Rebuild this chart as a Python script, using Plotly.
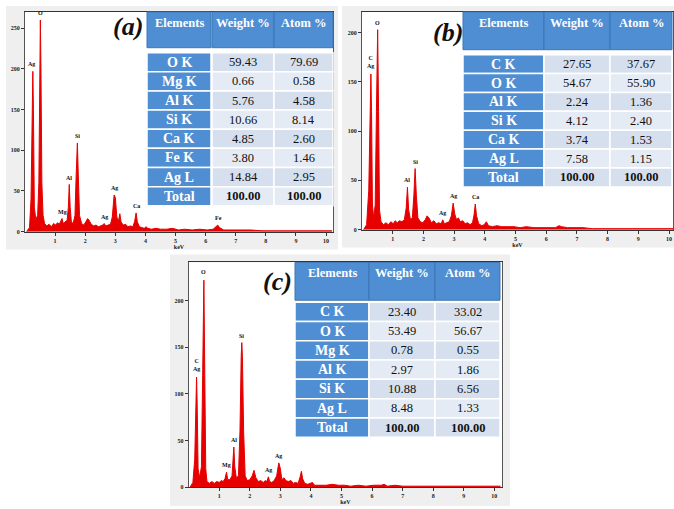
import plotly.graph_objects as go

W, H = 674, 509

# ---------------- data ----------------
# Spectrum (a)
kev_a = [0.05, 0.15, 0.20, 0.24, 0.26, 0.28, 0.31, 0.36, 0.42, 0.46, 0.49, 0.51, 0.53, 0.56, 0.60, 0.65,
         0.72, 0.80, 0.88, 0.95, 1.02, 1.08, 1.14, 1.19, 1.23, 1.27, 1.33, 1.40, 1.44, 1.47, 1.50, 1.54,
         1.60, 1.66, 1.70, 1.74, 1.77, 1.81, 1.88, 1.95, 2.02, 2.08, 2.13, 2.20, 2.28, 2.36, 2.44, 2.52,
         2.58, 2.63, 2.68, 2.76, 2.84, 2.90, 2.96, 3.00, 3.05, 3.10, 3.15, 3.19, 3.26, 3.34, 3.42, 3.50,
         3.58, 3.64, 3.69, 3.73, 3.80, 3.88, 3.96, 4.02, 4.08, 4.20, 4.35, 4.50, 4.70, 4.90, 5.10, 5.30,
         5.55, 5.80, 6.05, 6.25, 6.35, 6.40, 6.46, 6.60, 6.90, 7.20, 7.50, 7.90, 8.30, 8.70, 9.10, 9.50,
         9.90, 10.20]
cnt_a = [0, 5, 40, 150, 197, 150, 30, 15, 20, 60, 200, 260, 200, 60, 20, 10,
         7, 9, 6, 10, 8, 11, 9, 12, 16, 10, 12, 14, 30, 58, 30, 12,
         10, 20, 70, 109, 70, 20, 10, 8, 12, 16, 14, 9, 7, 8, 6, 7,
         8, 10, 7, 8, 9, 18, 45, 42, 18, 12, 22, 12, 8, 9, 6, 7,
         6, 12, 23, 12, 6, 5, 4, 6, 4, 3, 4, 3, 3, 4, 2, 3,
         2, 3, 2, 3, 6, 8, 5, 2, 2, 2, 2, 1, 1, 1, 1, 1,
         1, 1]
lab_a_text = ["Ag", "O", "Mg", "Al", "Si", "Ag", "Ag", "Ca", "Fe"]
lab_a_kev = [0.22, 0.52, 1.23, 1.47, 1.74, 2.63, 2.98, 3.69, 6.42]
lab_a_cnt = [200, 262, 18, 60, 111, 12, 47, 25, 10]

# Spectrum (b)
kev_b = [0.05, 0.15, 0.22, 0.26, 0.29, 0.31, 0.34, 0.38, 0.43, 0.47, 0.51, 0.54, 0.57, 0.62, 0.70, 0.78,
         0.86, 0.94, 1.02, 1.08, 1.15, 1.22, 1.30, 1.38, 1.44, 1.48, 1.52, 1.58, 1.64, 1.69, 1.73, 1.77,
         1.82, 1.90, 1.98, 2.06, 2.12, 2.18, 2.26, 2.34, 2.42, 2.50, 2.58, 2.63, 2.68, 2.76, 2.84, 2.91,
         2.97, 3.02, 3.08, 3.14, 3.20, 3.28, 3.36, 3.44, 3.52, 3.60, 3.65, 3.69, 3.73, 3.80, 3.90, 3.98,
         4.05, 4.12, 4.25, 4.40, 4.55, 4.75, 4.95, 5.15, 5.35, 5.60, 5.85, 6.10, 6.30, 6.42, 6.50, 6.70,
         7.00, 7.20, 7.50, 7.90, 8.30, 8.70, 9.10, 9.50, 9.90, 10.15]
cnt_b = [0, 5, 40, 120, 158, 120, 25, 12, 25, 120, 203, 120, 20, 8, 5, 7,
         5, 8, 6, 9, 7, 9, 8, 10, 22, 43, 20, 10, 12, 35, 62, 35,
         12, 8, 7, 10, 14, 12, 7, 9, 6, 7, 6, 10, 6, 7, 8, 14,
         27, 16, 10, 12, 8, 9, 6, 7, 5, 7, 15, 26, 14, 6, 4, 5,
         8, 4, 3, 4, 3, 3, 3, 2, 3, 2, 2, 2, 2, 4, 3, 2,
         2, 2, 1, 1, 1, 1, 1, 1, 1, 1]
lab_b_text = ["C<br>Ag", "O", "Al", "Si", "Ag", "Ag", "Ca"]
lab_b_kev = [0.27, 0.51, 1.48, 1.73, 2.63, 2.97, 3.69]
lab_b_cnt = [161, 205, 45, 64, 12, 29, 28]

# Spectrum (c)
kev_c = [0.05, 0.14, 0.20, 0.23, 0.26, 0.28, 0.31, 0.36, 0.42, 0.46, 0.50, 0.53, 0.56, 0.60, 0.68, 0.76,
         0.84, 0.92, 1.00, 1.07, 1.13, 1.19, 1.24, 1.28, 1.35, 1.42, 1.45, 1.48, 1.51, 1.56, 1.63, 1.68,
         1.72, 1.74, 1.76, 1.80, 1.85, 1.92, 2.00, 2.08, 2.14, 2.20, 2.28, 2.36, 2.44, 2.51, 2.56, 2.61,
         2.65, 2.72, 2.80, 2.88, 2.95, 3.00, 3.05, 3.12, 3.18, 3.26, 3.35, 3.42, 3.50, 3.58, 3.64, 3.69,
         3.73, 3.80, 3.90, 3.98, 4.05, 4.12, 4.30, 4.50, 4.70, 4.90, 5.10, 5.30, 5.55, 5.80, 6.05, 6.30,
         6.40, 6.50, 6.75, 7.00, 7.30, 7.60, 8.00, 8.40, 8.80, 9.20, 9.60, 10.00, 10.20]
cnt_c = [0, 5, 30, 90, 118, 90, 20, 10, 22, 120, 222, 120, 20, 6, 4, 6,
         4, 6, 5, 7, 6, 9, 16, 8, 8, 12, 25, 43, 22, 10, 12, 60,
         140, 155, 140, 60, 12, 7, 8, 12, 18, 10, 6, 7, 5, 7, 6, 11,
         6, 5, 7, 12, 26, 20, 8, 10, 7, 6, 7, 4, 5, 4, 10, 17,
         9, 4, 3, 4, 5, 2, 2, 2, 3, 2, 2, 1, 2, 1, 2, 2,
         3, 1, 2, 1, 1, 1, 1, 1, 1, 1, 1, 1, 1]
lab_c_text = ["C<br>Ag", "O", "Mg", "Al", "Si", "Ag", "Ag"]
lab_c_kev = [0.26, 0.50, 1.24, 1.48, 1.74, 2.61, 2.95]
lab_c_cnt = [121, 225, 18, 45, 157, 13, 28]

x_ticks = [1, 2, 3, 4, 5, 6, 7, 8, 9, 10]
y_ticks = [0, 50, 100, 150, 200, 250]

# Tables
elem_a = ["O K", "Mg K", "Al K", "Si K", "Ca K", "Fe K", "Ag L", "Total"]
wt_a = ["59.43", "0.66", "5.76", "10.66", "4.85", "3.80", "14.84", "100.00"]
at_a = ["79.69", "0.58", "4.58", "8.14", "2.60", "1.46", "2.95", "100.00"]

elem_b = ["C K", "O K", "Al K", "Si K", "Ca K", "Ag L", "Total"]
wt_b = ["27.65", "54.67", "2.24", "4.12", "3.74", "7.58", "100.00"]
at_b = ["37.67", "55.90", "1.36", "2.40", "1.53", "1.15", "100.00"]

elem_c = ["C K", "O K", "Mg K", "Al K", "Si K", "Ag L", "Total"]
wt_c = ["23.40", "53.49", "0.78", "2.97", "10.88", "8.48", "100.00"]
at_c = ["33.02", "56.67", "0.55", "1.86", "6.56", "1.33", "100.00"]

headers = ["Elements", "Weight %", "Atom %"]

# ---------------- helpers ----------------
def fx(x):
    return x / W

def fy(y):
    return 1 - y / H

SERIF = "Liberation Serif"
RED = "#e60000"

fig = go.Figure()
shapes = []
annos = []

# panel backgrounds
for (x0, y0, x1, y1) in [(6, 6, 338, 251), (342, 6, 674, 249), (170, 256, 510, 509)]:
    shapes.append(dict(type="rect", xref="paper", yref="paper", x0=fx(x0), x1=fx(x1), y0=fy(y1), y1=fy(y0),
                       fillcolor="#efefef", line=dict(width=0), layer="below"))

panels = [
    dict(name="", kev=kev_a, cnt=cnt_a, lt=lab_a_text, lk=lab_a_kev, lc=lab_a_cnt,
         px=(25, 333), py=(12, 233), xr=10.23, yr=270),
    dict(name="2", kev=kev_b, cnt=cnt_b, lt=lab_b_text, lk=lab_b_kev, lc=lab_b_cnt,
         px=(362, 673), py=(12, 231), xr=10.13, yr=221),
    dict(name="3", kev=kev_c, cnt=cnt_c, lt=lab_c_text, lk=lab_c_kev, lc=lab_c_cnt,
         px=(188.6, 502), py=(264, 490), xr=10.25, yr=241),
]

tickfont = dict(family=SERIF, size=6, color="#222", weight="bold")
layout_axes = {}
for p in panels:
    n = p["name"]
    xa = "x" + n
    ya = "y" + n
    # white plot area
    shapes.append(dict(type="rect", xref="paper", yref="paper",
                       x0=fx(p["px"][0]), x1=fx(p["px"][1]), y0=fy(p["py"][1]), y1=fy(p["py"][0]),
                       fillcolor="white", line=dict(width=0), layer="below"))
    fig.add_trace(go.Scatter(x=p["kev"], y=p["cnt"], mode="lines", fill="tozeroy",
                             line=dict(color=RED, width=1), fillcolor=RED,
                             xaxis=xa, yaxis=ya, showlegend=False, hoverinfo="skip"))
    layout_axes["xaxis" + n] = dict(domain=[fx(p["px"][0]), fx(p["px"][1])], range=[0, p["xr"]],
                                    anchor=ya, tickvals=x_ticks, ticks="outside", ticklen=3,
                                    tickcolor="#333", tickfont=tickfont, showgrid=False, zeroline=False,
                                    showline=True, mirror=True, linecolor="#333", linewidth=1,
                                    title=dict(text="keV", font=tickfont, standoff=1))
    layout_axes["yaxis" + n] = dict(domain=[fy(p["py"][1]), fy(p["py"][0])], range=[0, p["yr"]],
                                    anchor=xa, tickvals=y_ticks, ticks="outside", ticklen=3,
                                    tickcolor="#333", tickfont=tickfont, showgrid=False, zeroline=False,
                                    showline=True, mirror=True, linecolor="#555", linewidth=1)
    for t, k, c in zip(p["lt"], p["lk"], p["lc"]):
        annos.append(dict(x=k, y=c, xref=xa, yref=ya, text=t, showarrow=False,
                          xanchor="center", yanchor="bottom",
                          font=dict(family=SERIF, size=6, color="#111", weight="bold")))

# tables
HDR = "#4f8ed2"
HDR_LINE = "#3d76b6"
LIGHT = ["#d6dfed", "#e5ebf4"]

def add_table(cols, hdr, row0, rowh, elem, wt, at):
    for j, (x0, x1) in enumerate(cols):
        shapes.append(dict(type="rect", xref="paper", yref="paper", x0=fx(x0), x1=fx(x1),
                           y0=fy(hdr[1]), y1=fy(hdr[0]), fillcolor=HDR, line=dict(color=HDR_LINE, width=1)))
        annos.append(dict(x=fx((x0 + x1) / 2), y=fy(hdr[0] + 11), xref="paper", yref="paper",
                          text=headers[j], showarrow=False, xanchor="center", yanchor="middle",
                          font=dict(family=SERIF, size=12.5, color="white", weight="bold")))
    for i in range(len(elem)):
        y0 = row0 + i * rowh
        y1 = y0 + rowh
        vals = [elem[i], wt[i], at[i]]
        for j, (x0, x1) in enumerate(cols):
            fill = HDR if j == 0 else LIGHT[i % 2]
            shapes.append(dict(type="rect", xref="paper", yref="paper", x0=fx(x0), x1=fx(x1),
                               y0=fy(y1), y1=fy(y0), fillcolor=fill, line=dict(color="white", width=1.5)))
            bold = (j == 0) or (i == len(elem) - 1)
            annos.append(dict(x=fx((x0 + x1) / 2), y=fy((y0 + y1) / 2), xref="paper", yref="paper",
                              text=vals[j], showarrow=False, xanchor="center", yanchor="middle",
                              font=dict(family=SERIF, size=14 if j == 0 else 12.5,
                                        color="white" if j == 0 else "#111",
                                        weight="bold" if bold else "normal")))

add_table([(147, 211), (212, 274), (274, 333)], (12, 48), 53, 19.25, elem_a, wt_a, at_a)
add_table([(463, 544), (544, 610), (610, 672)], (12, 50), 55, 19.0, elem_b, wt_b, at_b)
add_table([(295, 369), (369, 435), (435, 500)], (264, 302), 304, 19.4, elem_c, wt_c, at_c)

# panel letters
for t, (x, y) in [("(a)", (128, 27)), ("(b)", (448, 33)), ("(c)", (277, 283))]:
    annos.append(dict(x=fx(x), y=fy(y), xref="paper", yref="paper", text=t, showarrow=False,
                      xanchor="center", yanchor="middle",
                      font=dict(family=SERIF, size=26, color="#111", weight="bold", style="italic")))

fig.update_layout(width=W, height=H, margin=dict(l=0, r=0, t=0, b=0),
                  paper_bgcolor="white", plot_bgcolor="rgba(0,0,0,0)",
                  shapes=shapes, annotations=annos, showlegend=False, **layout_axes)

fig.write_html("out.html", config={"displayModeBar": False},
               post_script="document.body.style.margin='0';")
